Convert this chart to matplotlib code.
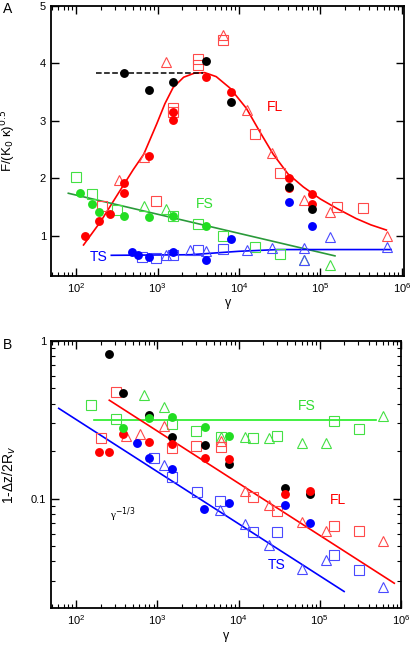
import matplotlib
matplotlib.use('Agg')
import matplotlib.pyplot as plt
from matplotlib.ticker import LogLocator, NullFormatter, FixedLocator, FixedFormatter

plt.rcParams['font.family'] = ['Liberation Sans', 'DejaVu Sans']

### panel A data
a_red_cx = [128, 191, 259, 388, 388, 787, 1550, 1550, 3940, 7950, 40700, 40700, 79500, 79500]
a_red_cy = [1.0, 1.26, 1.38, 1.75, 1.92, 2.38, 3.15, 3.02, 3.76, 3.51, 2.01, 1.84, 1.72, 1.56]
a_blk_x = [388, 787, 1550, 3940, 7950, 40700, 79500]
a_blk_y = [3.84, 3.54, 3.67, 4.05, 3.32, 1.85, 1.47]
a_blu_cx = [486, 582, 787, 1550, 3940, 7950, 40700, 79500]
a_blu_cy = [0.71, 0.67, 0.63, 0.72, 0.57, 0.95, 1.58, 1.17]
a_grn_cx = [110, 155, 191, 388, 787, 1550, 3940]
a_grn_cy = [1.75, 1.55, 1.41, 1.34, 1.33, 1.34, 1.17]

a_red_sx = [207, 955, 1560, 1560, 3170, 3170, 6300, 15900, 31600, 162000, 331000]
a_red_sy = [1.52, 1.60, 3.22, 3.16, 4.07, 3.98, 4.40, 2.77, 2.10, 1.50, 1.49]
a_red_tx = [338, 680, 1260, 6300, 12600, 25600, 63000, 130000, 650000]
a_red_ty = [1.97, 2.37, 4.03, 4.50, 3.19, 2.44, 1.63, 1.42, 1.0]
a_grn_sx = [100, 156, 321, 1560, 3170, 6300, 15900, 31600]
a_grn_sy = [2.02, 1.72, 1.45, 1.34, 1.20, 1.0, 0.81, 0.68]
a_grn_tx = [680, 1260, 63000, 130000]
a_grn_ty = [1.52, 1.46, 0.58, 0.49]
a_blu_sx = [640, 950, 1560, 3170, 6300]
a_blu_sy = [0.63, 0.61, 0.66, 0.75, 0.77]
a_blu_tx = [1260, 2500, 3940, 12600, 25600, 63000, 63000, 130000, 650000]
a_blu_ty = [0.67, 0.75, 0.74, 0.75, 0.78, 0.78, 0.58, 0.97, 0.80]

# fitted curves
a_fl_x = [123, 200, 316, 501, 676, 977, 1230, 1550, 2090, 2820, 3800, 5250,
          7760, 12300, 18200, 26300, 39800, 61700, 100000, 162000, 275000, 417000, 646000]
a_fl_y = [0.84, 1.25, 1.70, 2.15, 2.42, 2.95, 3.30, 3.58, 3.76, 3.83, 3.84, 3.77,
          3.57, 3.22, 2.80, 2.42, 2.08, 1.85, 1.64, 1.47, 1.30, 1.19, 1.10]
a_fs_x = [80, 151000]
a_fs_y = [1.74, 0.65]
a_ts_x = [270, 2500, 10000, 30000, 740000]
a_ts_y = [0.66, 0.67, 0.73, 0.76, 0.76]
a_dash_x = [176, 3630]
a_dash_y = [3.83, 3.83]

### panel B data
b_blk_x = [256, 381, 780, 1535, 3820, 7600, 37500, 75700]
b_blk_y = [0.83, 0.469, 0.339, 0.245, 0.22, 0.165, 0.116, 0.107]
b_red_cx = [190, 256, 373, 780, 1535, 3820, 7600, 37500, 75700]
b_red_cy = [0.198, 0.198, 0.255, 0.227, 0.222, 0.18, 0.178, 0.107, 0.111]
b_grn_cx = [381, 780, 1535, 3820, 7600]
b_grn_cy = [0.281, 0.323, 0.33, 0.286, 0.249]
b_blu_cx = [565, 780, 1535, 3800, 7600, 37500, 75700]
b_blu_cy = [0.224, 0.18, 0.154, 0.0865, 0.0944, 0.0912, 0.0698]

b_grn_sx = [153, 310, 1535, 3020, 6150, 15200, 30000, 151000, 302000]
b_grn_sy = [0.394, 0.321, 0.296, 0.269, 0.247, 0.241, 0.249, 0.312, 0.276]
b_grn_tx = [680, 1210, 6150, 12100, 24000, 60000, 120000, 602000]
b_grn_ty = [0.453, 0.379, 0.247, 0.247, 0.242, 0.224, 0.224, 0.334]
b_red_sx = [202, 310, 1535, 3020, 6150, 15200, 30000, 151000, 302000]
b_red_sy = [0.241, 0.476, 0.208, 0.215, 0.211, 0.103, 0.084, 0.067, 0.0627]
b_red_tx = [410, 610, 1210, 6150, 12100, 24000, 60000, 120000, 602000]
b_red_ty = [0.249, 0.255, 0.289, 0.232, 0.111, 0.0912, 0.0708, 0.0627, 0.054]
b_blu_sx = [915, 1535, 3080, 6000, 15200, 30000, 151000, 302000]
b_blu_sy = [0.18, 0.138, 0.11, 0.097, 0.0612, 0.0612, 0.044, 0.0354]
b_blu_tx = [1210, 6000, 12100, 24000, 60000, 120000, 602000]
b_blu_ty = [0.163, 0.0848, 0.0687, 0.0509, 0.0357, 0.041, 0.0275]

b_fs_x = [166, 490000]
b_fs_y = [0.315, 0.315]
b_fl_x = [256, 830000]
b_fl_y = [0.42, 0.0291]
b_ts_x = [61, 200000]
b_ts_y = [0.373, 0.0258]

RED = '#ff0000'
RED_O = '#ff4a4a'
GRN = '#22dd22'
GRN_O = '#44e044'
BLU = '#0000ff'
BLU_O = '#4a4aff'

fig = plt.figure(figsize=(4.16, 6.5), dpi=100)
axA = fig.add_axes([0.1226, 0.5754, 0.849, 0.4154])
axB = fig.add_axes([0.1226, 0.0642, 0.841, 0.4116])

def open_pts(ax, x, y, m, c, ms):
    ax.plot(x, y, m, ls='none', mfc='none', mec=c, ms=ms, mew=0.8, zorder=3)

def dots(ax, x, y, c):
    ax.plot(x, y, 'o', ls='none', color=c, ms=6.4, mew=0, zorder=4)

def style(ax):
    ax.set_xscale('log')
    ax.tick_params(which='both', direction='in', top=True, right=True, labelsize=8)
    ax.tick_params(which='major', length=5.5, width=1)
    ax.tick_params(which='minor', length=3, width=0.8)
    for s in ax.spines.values():
        s.set_linewidth(1.3)
    ax.xaxis.set_major_locator(LogLocator(base=10, numticks=10))
    ax.xaxis.set_minor_locator(LogLocator(base=10, subs=range(2, 10), numticks=10))
    ax.xaxis.set_minor_formatter(NullFormatter())
    ax.set_xlabel('γ', fontsize=9, labelpad=2)

def label(x, y, s, c, size=10, **kw):
    fig.text(x, y, s, color=c, fontsize=size, ha='center', va='center', **kw)

### A
style(axA)
axA.plot(a_fl_x, a_fl_y, color=RED, lw=1.2, zorder=2)
axA.plot(a_fs_x, a_fs_y, color='#2a9a3a', lw=1.2, zorder=2)
axA.plot(a_ts_x, a_ts_y, color=BLU, lw=1.2, zorder=2)
axA.plot(a_dash_x, a_dash_y, 'k--', lw=1.1, zorder=2)

open_pts(axA, a_red_sx, a_red_sy, 's', RED_O, 6.8)
open_pts(axA, a_red_tx, a_red_ty, '^', RED_O, 6.8)
open_pts(axA, a_grn_sx, a_grn_sy, 's', GRN_O, 6.8)
open_pts(axA, a_grn_tx, a_grn_ty, '^', GRN_O, 6.8)
open_pts(axA, a_blu_sx, a_blu_sy, 's', BLU_O, 6.8)
open_pts(axA, a_blu_tx, a_blu_ty, '^', BLU_O, 6.8)
dots(axA, a_grn_cx, a_grn_cy, GRN)
dots(axA, a_blu_cx, a_blu_cy, BLU)
dots(axA, a_red_cx, a_red_cy, RED)
dots(axA, a_blk_x, a_blk_y, 'k')

axA.set_xlim(49, 1.07e6)
axA.set_ylim(0.3, 5)
axA.set_yticks([1, 2, 3, 4, 5])
axA.set_ylabel(r'F/(K$_0$ κ)$^{0.5}$', fontsize=9.5)
axA.yaxis.set_label_coords(-0.093, 0.5)
label(0.660, 0.835, 'FL', RED)
label(0.493, 0.686, 'FS', '#33dd33')
label(0.236, 0.605, 'TS', BLU)
label(0.018, 0.986, 'A', 'k')

### B
style(axB)
axB.set_yscale('log')
axB.plot(b_fs_x, b_fs_y, color='#22ee22', lw=1.2, zorder=2)
axB.plot(b_fl_x, b_fl_y, color=RED, lw=1.2, zorder=2)
axB.plot(b_ts_x, b_ts_y, color=BLU, lw=1.2, zorder=2)

open_pts(axB, b_grn_sx, b_grn_sy, 's', GRN_O, 6.8)
open_pts(axB, b_grn_tx, b_grn_ty, '^', GRN_O, 6.8)
open_pts(axB, b_red_sx, b_red_sy, 's', RED_O, 6.8)
open_pts(axB, b_red_tx, b_red_ty, '^', RED_O, 6.8)
open_pts(axB, b_blu_sx, b_blu_sy, 's', BLU_O, 6.8)
open_pts(axB, b_blu_tx, b_blu_ty, '^', BLU_O, 6.8)
dots(axB, b_blk_x, b_blk_y, 'k')
dots(axB, b_red_cx, b_red_cy, RED)
dots(axB, b_grn_cx, b_grn_cy, GRN)
dots(axB, b_blu_cx, b_blu_cy, BLU)

axB.set_xlim(49, 1e6)
axB.set_ylim(0.0202, 1)
axB.yaxis.set_major_locator(FixedLocator([0.1, 1]))
axB.yaxis.set_major_formatter(FixedFormatter(['0.1', '1']))
axB.yaxis.set_minor_locator(LogLocator(base=10, subs=range(2, 10), numticks=10))
axB.yaxis.set_minor_formatter(NullFormatter())
axB.set_ylabel(r'1-Δz/2R$_v$', fontsize=10)
axB.yaxis.set_label_coords(-0.095, 0.5)
label(0.737, 0.376, 'FS', '#33dd33')
label(0.812, 0.230, 'FL', RED)
label(0.666, 0.131, 'TS', BLU)
label(0.294, 0.2085, r'γ$^{-1/3}$', 'k', size=8, family=['Liberation Serif', 'DejaVu Serif'])
label(0.018, 0.469, 'B', 'k')

plt.savefig('out.png', dpi=100)
